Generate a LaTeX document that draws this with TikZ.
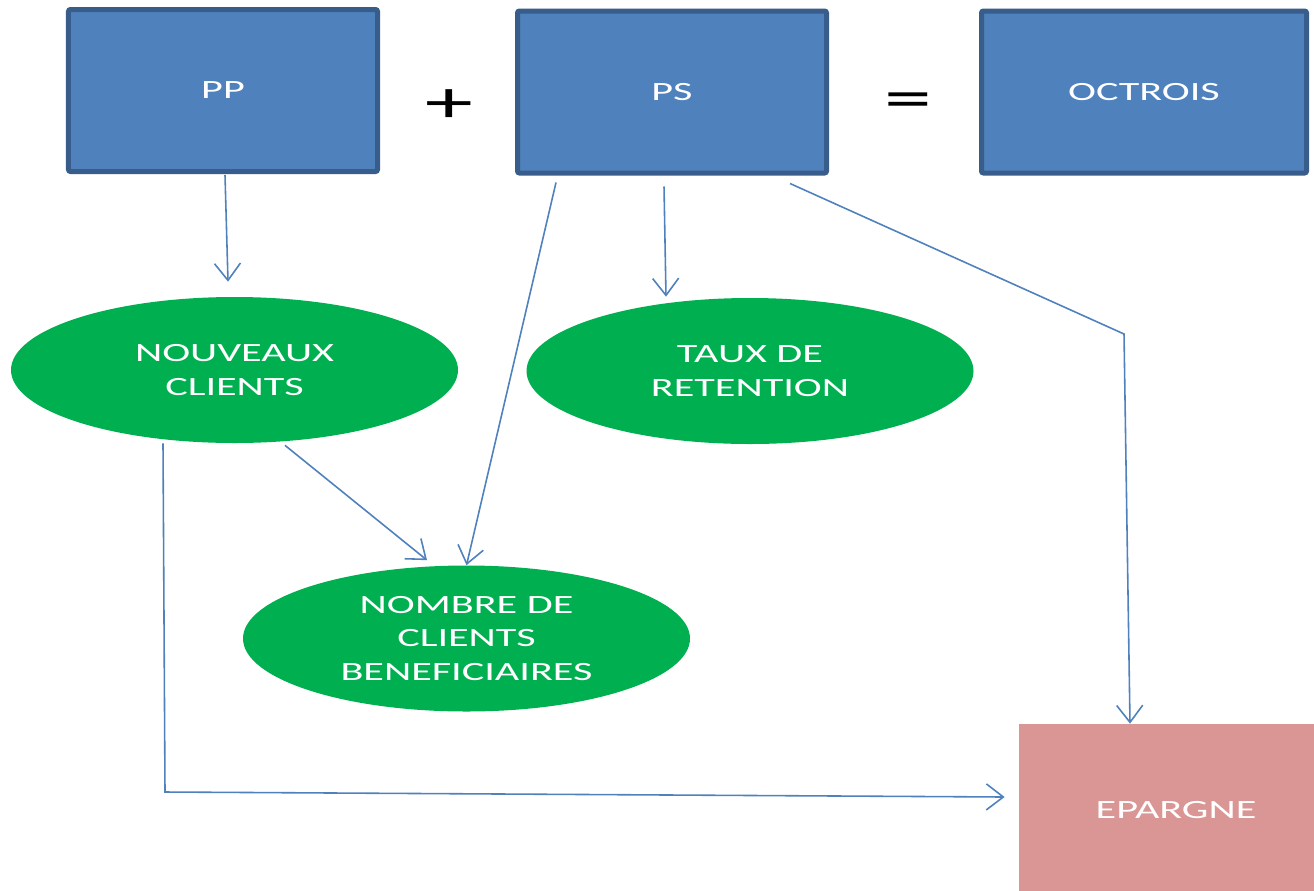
\documentclass[tikz,border=0pt]{standalone}
\usepackage{fontspec}
\setmainfont{Carlito}[FakeStretch=1.6]
\usetikzlibrary{arrows.meta,calc,shapes.geometric}
\definecolor{bleu}{HTML}{4F81BD}
\definecolor{bleufonce}{HTML}{385D8A}
\definecolor{vert}{HTML}{00B050}
\definecolor{rose}{HTML}{D99694}
\begin{document}
\begin{tikzpicture}[x=0.2mm,y=-0.2mm,
  boite/.style={draw=bleufonce, line width=1mm, fill=bleu, rounded corners=0.4mm, text=white, minimum width=61.8mm, minimum height=32.4mm},
  bulle/.style={ellipse, fill=vert, text=white, align=center, inner sep=0pt, minimum width=89.4mm, minimum height=29.2mm},
  signe/.style={font=\fontsize{34}{34}\selectfont},
  fleche/.style={draw=bleu, line width=0.9pt, -{Straight Barb[length=3.4mm,width=5.2mm]}},
  font=\fontsize{15}{19}\selectfont]
% Cadre
\fill[white] (0,0) rectangle (1314,890);
\useasboundingbox (0,0) rectangle (1314,890);
% Produits
\node[boite] (pp) at (223,90.5) {PP};
\node[signe] (plus) at (449,106) {+};
\node[boite] (ps) at (672,92) {PS};
\node[signe] (egal) at (908,106) {=};
\node[boite, minimum width=65mm] (octrois) at (1144,92) {OCTROIS};
% Indicateurs
\node[bulle] (nouveaux) at (234.5,370) {NOUVEAUX\\CLIENTS};
\node[bulle] (taux) at (750,371) {TAUX DE\\RETENTION};
\node[bulle] (nombre) at (466.5,638.5) {NOMBRE DE\\CLIENTS\\BENEFICIAIRES};
% Epargne
\node[fill=rose, text=white, minimum width=62.8mm, minimum height=34.4mm] (epargne) at (1176,810) {EPARGNE};
% Liens
\draw[fleche] ($(pp.south)+(2,1)$) -- ($(nouveaux.north)+(-6.5,-15)$);
\draw[fleche] ($(ps.south)+(-116,7)$) -- (nombre.north);
\draw[fleche] ($(ps.south)+(-8,11)$) -- ($(taux.north)+(-84,-1)$);
\draw[fleche] ($(ps.south)+(118,8)$) -- (1124,334) -- ($(epargne.north)+(-46,0)$);
\draw[fleche] ($(nouveaux.south)+(50.5,2)$) -- ($(nombre.north)+(-39.5,-5)$);
\draw[fleche] ($(nouveaux.south)+(-71.5,0)$) -- (165,792) -- ($(epargne.west)+(-14,-13)$);
\end{tikzpicture}
\end{document}
